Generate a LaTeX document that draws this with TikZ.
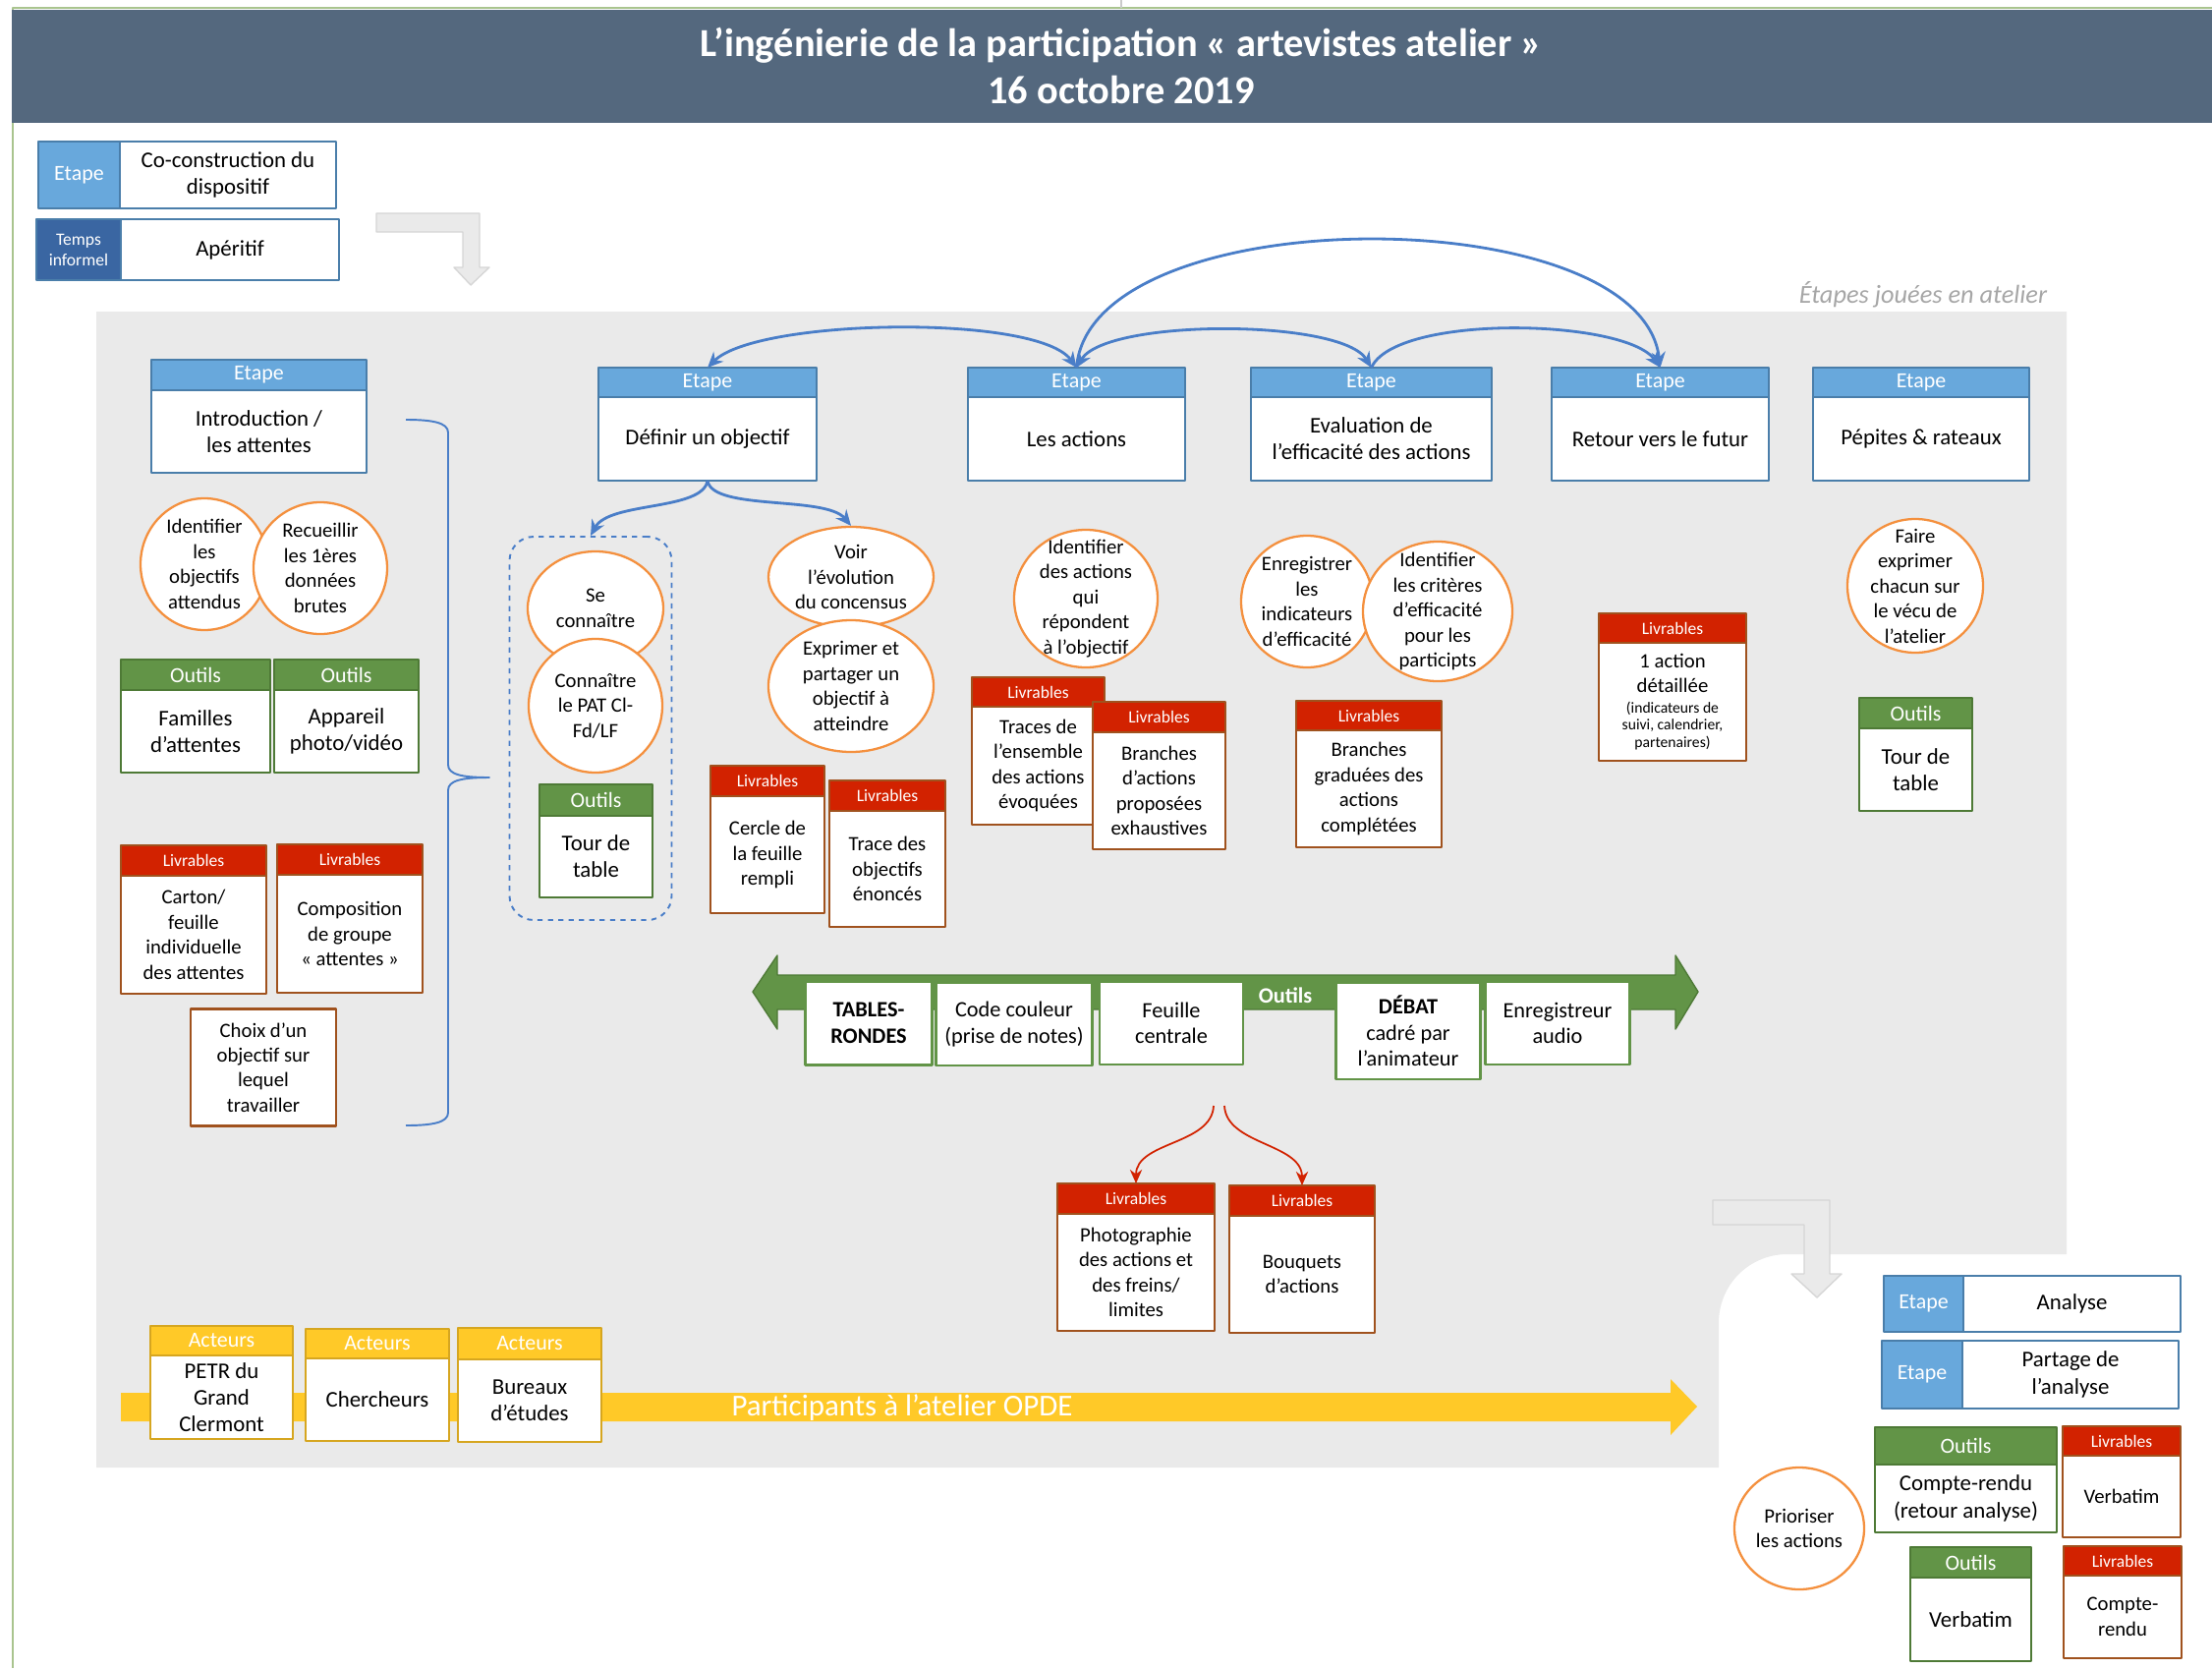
\documentclass[tikz,border=0pt]{standalone}
\usepackage{fontspec}
\setmainfont{Carlito}
\usetikzlibrary{arrows.meta,shapes.geometric}

\definecolor{bandeau}{RGB}{84,104,126}
\definecolor{etapebleu}{RGB}{104,168,220}
\definecolor{etapebord}{RGB}{74,126,170}
\definecolor{informel}{RGB}{58,102,162}
\definecolor{outilvert}{RGB}{98,148,71}
\definecolor{outilbord}{RGB}{78,122,54}
\definecolor{livrouge}{RGB}{210,34,0}
\definecolor{livbord}{RGB}{160,82,30}
\definecolor{acteurjaune}{RGB}{255,201,40}
\definecolor{acteurbord}{RGB}{214,166,32}
\definecolor{bulleorange}{RGB}{244,144,62}
\definecolor{lienbleu}{RGB}{74,126,200}
\definecolor{fond}{RGB}{234,234,234}
\definecolor{flechegris}{RGB}{214,214,214}
\definecolor{textegris}{RGB}{166,166,166}
\definecolor{cadrevert}{RGB}{169,196,142}

\newcommand{\ftete}{\fontsize{12.5}{14}\selectfont}
\newcommand{\fcorps}{\fontsize{13}{15.5}\selectfont}
\newcommand{\fpetit}{\fontsize{10}{12}\selectfont}
\newcommand{\fliv}{\fontsize{11.8}{14.5}\selectfont}
\newcommand{\fplaque}{\fontsize{12.7}{15.1}\selectfont}
\newcommand{\fmini}{\fontsize{8.9}{10.5}\selectfont}

\tikzset{
  carte/.style={anchor=north west,inner sep=1pt,outer sep=0pt,align=center,line width=1.2pt},
  etape tete/.style={carte,draw=etapebord,fill=etapebleu,text=white,font=\ftete},
  etape corps/.style={carte,draw=etapebord,fill=white,font=\fcorps},
  informel tete/.style={carte,draw=etapebord,fill=informel,text=white,font=\fpetit},
  outil tete/.style={carte,draw=outilbord,fill=outilvert,text=white,font=\ftete},
  outil corps/.style={carte,draw=outilbord,fill=white,font=\fcorps},
  livr tete/.style={carte,draw=livbord,fill=livrouge,text=white,font=\fpetit},
  livr corps/.style={carte,draw=livbord,fill=white,font=\fliv},
  acteur tete/.style={carte,draw=acteurbord,fill=acteurjaune,text=white,font=\ftete},
  acteur corps/.style={carte,draw=acteurbord,fill=white,font=\fcorps},
  bulle/.style={ellipse,draw=bulleorange,fill=white,line width=1.3pt,inner sep=0pt},
  bulle texte/.style={align=center,font=\fliv,inner sep=0pt},
  plaque/.style={draw=outilvert,fill=white,line width=1.2pt,align=center,font=\fplaque,inner sep=1pt},
  taille/.style 2 args={minimum width={#1*0.02cm},minimum height={#2*0.02cm}},
  lien/.style={draw=lienbleu,line width=1.6pt,-{Stealth[length=9pt,width=8pt]}},
  lienrouge/.style={draw=livrouge,line width=1pt,-{Stealth[length=8pt,width=7pt]}}
}

% carte : header above body
\newcommand{\carte}[9]{%
  \node[#1 tete,minimum width={(#5-#3)*0.02cm},minimum height={(#7-#4)*0.02cm}] (#2h) at (#3,#4) {#8};
  \node[#1 corps,minimum width={(#5-#3)*0.02cm},minimum height={(#6-#7)*0.02cm}] (#2) at (#3,#7) {#9};}
% carte with header on the left
\newcommand{\cartelat}[9]{%
  \node[#1 tete,minimum width={(#5-#3)*0.02cm},minimum height={(#7-#4)*0.02cm}] (#2h) at (#3,#4) {#8};
  \node[etape corps,minimum width={(#6-#5)*0.02cm},minimum height={(#7-#4)*0.02cm}] (#2) at (#5,#4) {#9};}
% orange bubble
\newcommand{\bulle}[6]{%
  \node[bulle,minimum width={2*#4*0.02cm},minimum height={2*#5*0.02cm}] (#1) at (#2,#3) {};
  \node[bulle texte] (#1t) at (#1) {#6};}

\begin{document}
\begin{tikzpicture}[x=0.02cm,y=-0.02cm,line join=round]
  \useasboundingbox (0,0) rectangle (2251,1697);

  % fond
  \fill[fond] (98,317) -- (2103,317) -- (2103,1276) -- (1819,1276)
    .. controls (1780,1276) and (1749,1307) .. (1749,1346) -- (1749,1493) -- (98,1493) -- cycle;
  \draw[cadrevert,line width=1.2pt] (13,1697) -- (13,8) -- (2251,8);
  \draw[textegris!60,line width=0.6pt] (1141,0) -- (1141,8);
  \fill[bandeau] (12,10) rectangle (2251,125);
  \node[font=\fontsize{23}{27}\selectfont\bfseries,text=white,align=center] (titre) at (1141,67)
    {L’ingénierie de la participation « artevistes atelier »\\16 octobre 2019};

  % legende
  \cartelat{etape}{coconst}{39}{144}{122}{342}{212}{Etape}{Co-construction du\\dispositif}
  \cartelat{informel}{apero}{37}{223}{123}{345}{285}{Temps\\informel}{Apéritif}
  \filldraw[fill=fond,draw=flechegris,line width=0.8pt] (383,217) -- (488,217) -- (488,272) -- (498,272)
    -- (479,290) -- (462,272) -- (471,272) -- (471,236) -- (383,236) -- cycle;
  \node[font=\fontsize{15}{18}\selectfont\itshape,text=textegris] (joue) at (1957,300) {Étapes jouées en atelier};

  % etapes
  \carte{etape}{intro}{154}{366}{373}{481}{397}{Etape}{Introduction /\\les attentes}
  \carte{etape}{definir}{609}{374}{831}{489}{404}{Etape}{Définir un objectif}
  \carte{etape}{actions}{985}{374}{1206}{489}{404}{Etape}{Les actions}
  \carte{etape}{evaluation}{1273}{374}{1518}{489}{404}{Etape}{Evaluation de\\l’efficacité des actions}
  \carte{etape}{retour}{1579}{374}{1800}{489}{404}{Etape}{Retour vers le futur}
  \carte{etape}{pepites}{1845}{374}{2065}{489}{404}{Etape}{Pépites \& rateaux}

  \draw[lien,{Stealth[length=9pt,width=8pt]}-{Stealth[length=9pt,width=8pt]}] (actionsh.north) .. controls +(-40,-55) and +(50,-50) .. (definirh.north);
  \draw[lien,{Stealth[length=9pt,width=8pt]}-{Stealth[length=9pt,width=8pt]}] (actionsh.north) .. controls +(30,-50) and +(-30,-50) .. (evaluationh.north);
  \draw[lien] (evaluationh.north) .. controls +(25,-55) and +(-35,-50) .. (retourh.north);
  \draw[lien] (actionsh.north) .. controls +(14,-173) and +(-20,-173) .. (retourh.north);

  % introduction
  \bulle{objectifs}{208}{574}{65}{67}{Identifier\\les\\objectifs\\attendus}
  \bulle{recueil}{326}{578}{68}{67}{Recueillir\\les 1ères\\données\\brutes}
  \carte{outil}{familles}{123}{671}{275}{786}{702}{Outils}{Familles\\d’attentes}
  \carte{outil}{appareil}{279}{671}{426}{786}{702}{Outils}{Appareil\\photo/vidéo}
  \carte{livr}{carton}{123}{860}{271}{1011}{891}{Livrables}{Carton/\\feuille\\individuelle\\des attentes}
  \carte{livr}{compo}{282}{859}{430}{1010}{890}{Livrables}{Composition\\de groupe\\« attentes »}
  \node[plaque,draw=livbord,font=\fliv,taille={148}{119}] (choix) at (268,1086) {Choix d’un\\objectif sur\\lequel\\travailler};
  \draw[lienbleu,line width=1.1pt] (413,427) .. controls (440,427) and (456,430) .. (456,440) -- (456,778)
    .. controls (456,788) and (470,791) .. (498,791) .. controls (470,791) and (456,794) .. (456,804)
    -- (456,1132) .. controls (456,1142) and (440,1145) .. (413,1145);

  % definir un objectif
  \node[draw=lienbleu,dashed,line width=1.1pt,rounded corners=14pt,taille={165}{390}] (groupe) at (601,741) {};
  \bulle{seconn}{606}{619}{69}{58}{Se\\connaître}
  \bulle{pat}{606}{718}{68}{68}{Connaître\\le PAT Cl-\\Fd/LF}
  \carte{outil}{tour}{549}{798}{664}{913}{830}{Outils}{Tour de\\table}
  \bulle{voir}{866}{587}{84}{51}{Voir\\l’évolution\\du concensus}
  \bulle{exprimer}{866}{698}{84}{67}{Exprimer et\\partager un\\objectif à\\atteindre}
  \carte{livr}{cercle}{723}{779}{839}{929}{810}{Livrables}{Cercle de\\la feuille\\rempli}
  \carte{livr}{trace}{844}{794}{962}{943}{825}{Livrables}{Trace des\\objectifs\\énoncés}
  \draw[lien] (definir.south) .. controls +(-5,31) and +(19,-35) .. (groupe.north);
  \draw[lien] (definir.south) .. controls +(5,31) and +(-26,-31) .. (voir.north);

  % actions et evaluation
  \bulle{idactions}{1105}{609}{73}{70}{Identifier\\des actions\\qui\\répondent\\à l’objectif}
  \carte{livr}{traces}{989}{689}{1124}{839}{719}{Livrables}{Traces de\\l’ensemble\\des actions\\évoquées}
  \carte{livr}{branches}{1112}{714}{1247}{864}{745}{Livrables}{Branches\\d’actions\\proposées\\exhaustives}
  \bulle{enreg}{1330}{612}{67}{67}{Enregistrer\\les\\indicateurs\\d’efficacité}
  \bulle{criteres}{1463}{622}{76}{71}{Identifier\\les critères\\d’efficacité\\pour les\\participts}
  \carte{livr}{graduees}{1319}{713}{1467}{862}{743}{Livrables}{Branches\\graduées des\\actions\\complétées}

  % retour et pepites
  \carte{livr}{detail}{1627}{624}{1777}{774}{654}{Livrables}{1 action\\détaillée\\[-3pt]{\fmini (indicateurs de}\\[-4.5pt]{\fmini suivi, calendrier,}\\[-4.5pt]{\fmini partenaires)}}
  \bulle{faire}{1949}{596}{69}{68}{Faire\\exprimer\\chacun sur\\le vécu de\\l’atelier}
  \carte{outil}{tourb}{1892}{710}{2007}{825}{741}{Outils}{Tour de\\table}

  % outils communs
  \filldraw[fill=outilvert,draw=outilbord,line width=0.8pt] (766,1009) -- (791,972) -- (791,992) -- (1705,992)
    -- (1705,972) -- (1728,1009) -- (1705,1047) -- (1705,1027) -- (791,1027) -- (791,1047) -- cycle;
  \node[plaque,taille={129}{85}] (tables) at (884,1041) {\textbf{TABLES-}\\\textbf{RONDES}};
  \node[plaque,taille={159}{84}] (couleur) at (1032,1042) {Code couleur\\(prise de notes)};
  \node[plaque,taille={146}{84}] (feuille) at (1192,1041) {Feuille\\centrale};
  \node[font=\fplaque\bfseries,text=white] (outilsc) at (1308,1013) {Outils};
  \node[plaque,taille={147}{98}] (debat) at (1433,1049) {\textbf{DÉBAT}\\cadré par\\l’animateur};
  \node[plaque,taille={147}{84}] (audio) at (1585,1041) {Enregistreur\\audio};

  \coordinate (fourchea) at (1235,1125);
  \coordinate (fourcheb) at (1246,1125);
  \carte{livr}{photo}{1076}{1204}{1236}{1354}{1235}{Livrables}{Photographie\\des actions et\\des freins/\\limites}
  \carte{livr}{bouquets}{1251}{1206}{1399}{1356}{1237}{Livrables}{Bouquets\\d’actions}
  \draw[lienrouge] (fourchea) .. controls +(-2,40) and +(0,-43) .. (photoh.north);
  \draw[lienrouge] (fourcheb) .. controls +(2,40) and +(0,-43) .. (bouquetsh.north);

  % acteurs
  \fill[acteurjaune] (123,1417) -- (1700,1417) -- (1700,1403) -- (1727,1431) -- (1700,1460) -- (1700,1446) -- (123,1446) -- cycle;
  \node[font=\fontsize{17.6}{20}\selectfont,text=white] (participants) at (918,1432) {Participants à l’atelier OPDE};
  \carte{acteur}{petr}{153}{1349}{298}{1464}{1379}{Acteurs}{PETR du\\Grand\\Clermont}
  \carte{acteur}{chercheurs}{311}{1352}{457}{1466}{1382}{Acteurs}{Chercheurs}
  \carte{acteur}{bureaux}{466}{1351}{612}{1467}{1383}{Acteurs}{Bureaux\\d’études}

  % analyse
  \filldraw[fill=fond,draw=flechegris,line width=0.8pt] (1743,1221) -- (1862,1221) -- (1862,1296) -- (1874,1296)
    -- (1849,1320) -- (1823,1296) -- (1836,1296) -- (1836,1246) -- (1743,1246) -- cycle;
  \cartelat{etape}{analyse}{1917}{1298}{1998}{2219}{1355}{Etape}{Analyse}
  \cartelat{etape}{partage}{1915}{1364}{1997}{2217}{1433}{Etape}{Partage de\\l’analyse}
  \carte{outil}{compterendu}{1908}{1452}{2093}{1559}{1490}{Outils}{Compte-rendu\\(retour analyse)}
  \carte{livr}{verbatim}{2099}{1451}{2219}{1564}{1481}{Livrables}{Verbatim}
  \carte{outil}{verbatimb}{1944}{1574}{2067}{1690}{1605}{Outils}{Verbatim}
  \carte{livr}{crendu}{2100}{1573}{2220}{1687}{1603}{Livrables}{Compte-\\rendu}
  \bulle{prioriser}{1831}{1555}{66}{62}{Prioriser\\les actions}
\end{tikzpicture}
\end{document}
